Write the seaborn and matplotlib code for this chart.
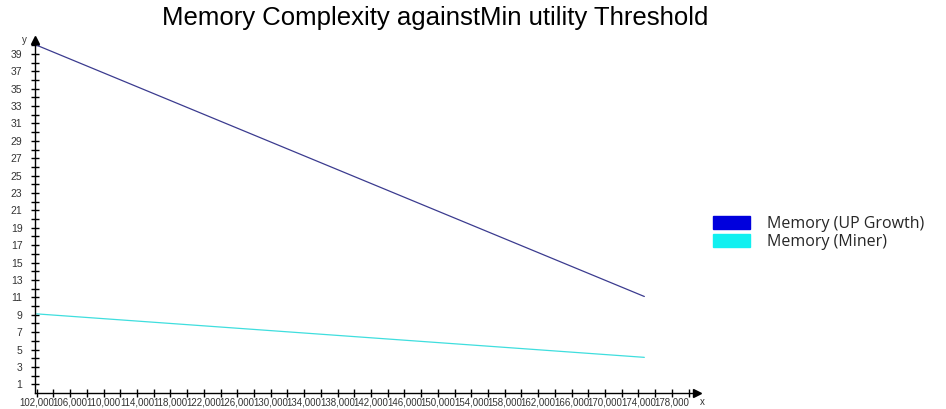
import matplotlib
matplotlib.use("Agg")
import matplotlib.pyplot as plt
import matplotlib.ticker as mticker
from matplotlib.patches import Patch
import seaborn as sns
import pandas as pd

# min utility threshold (x) and memory values
thresholds = [102000, 174700]
memory_up_growth = [40.0, 11.1]
memory_miner = [9.1, 4.1]
series_names = ["Memory (UP Growth)", "Memory (Miner)"]
line_colors = ["#3b3b8f", "#3fdede"]
legend_colors = ["#0000dd", "#11f0f0"]
x_tick_values = list(range(102000, 178001, 4000))
y_tick_values = list(range(1, 40, 2))

df = pd.DataFrame({
    "x": thresholds * 2,
    "y": memory_up_growth + memory_miner,
    "series": [series_names[0]] * len(thresholds) + [series_names[1]] * len(thresholds),
})

sns.set_style("white")
plt.rcParams["font.family"] = ["Liberation Sans", "DejaVu Sans"]

fig = plt.figure(figsize=(9.46, 4.09), dpi=100)
ax = fig.add_axes([35 / 946, 16 / 409, (697 - 35) / 946, (393 - 40) / 409])

sns.lineplot(data=df, x="x", y="y", hue="series", palette=line_colors,
             linewidth=0.9, legend=False, ax=ax)

ax.set_xlim(101800, 181000)
ax.set_ylim(0, 40.6)
ax.xaxis.set_major_locator(mticker.FixedLocator(x_tick_values))
ax.xaxis.set_minor_locator(mticker.FixedLocator([v + 2000 for v in x_tick_values]))
ax.xaxis.set_major_formatter(mticker.FuncFormatter(lambda v, p: "{:,.0f}".format(v)))
ax.yaxis.set_major_locator(mticker.FixedLocator(y_tick_values))
ax.yaxis.set_minor_locator(mticker.FixedLocator([v + 1 for v in y_tick_values]))
ax.tick_params(which="both", direction="inout", length=6, width=1.0, color="black",
               bottom=True, left=True)
ax.tick_params(axis="x", labelsize=7, labelcolor="#333333", pad=0)
ax.tick_params(axis="y", labelsize=7.5, labelcolor="#333333", pad=6)
ax.set_xlabel("")
ax.set_ylabel("")

for side in ["top", "right"]:
    ax.spines[side].set_visible(False)
for side in ["left", "bottom"]:
    ax.spines[side].set_color("black")
    ax.spines[side].set_linewidth(1.0)

# axis arrows and labels
ax.plot(0, 1, marker="^", color="black", markersize=6, transform=ax.transAxes, clip_on=False)
ax.plot(1, 0, marker=">", color="black", markersize=6, transform=ax.transAxes, clip_on=False)
ax.text(-0.012, 1.0, "y", transform=ax.transAxes, ha="right", va="center", fontsize=7, color="#333333")
ax.text(1.005, -0.025, "x", transform=ax.transAxes, ha="left", va="center", fontsize=7, color="#333333")

fig.text(435 / 946, 1 - 18 / 409, "Memory Complexity againstMin utility Threshold",
         ha="center", va="center", fontsize=18.5, color="black")

handles = [Patch(facecolor=c, edgecolor=c) for c in legend_colors]
fig.legend(handles, series_names, loc="center left", bbox_to_anchor=(713 / 946, 1 - 233 / 409),
           frameon=False, prop={"family": "Open Sans", "size": 11.5}, handlelength=2.3, handleheight=0.85,
           handletextpad=1.1, labelspacing=0.1, borderaxespad=0, borderpad=0)

fig.savefig("out.png", dpi=100)
